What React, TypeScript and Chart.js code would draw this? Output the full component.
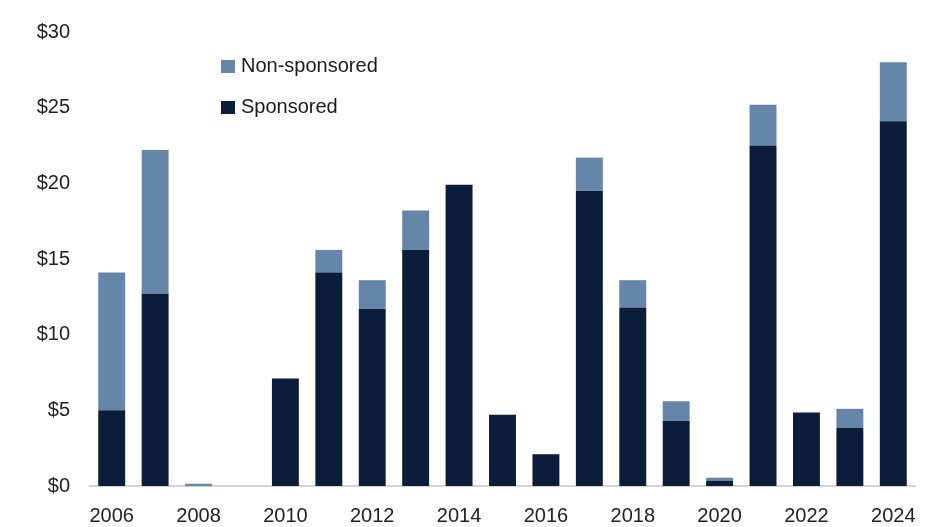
import React, { useEffect, useRef } from "react";
import { Chart, registerables } from "chart.js";

Chart.register(...registerables);

const years = ["2006","2007","2008","2009","2010","2011","2012","2013","2014","2015","2016","2017","2018","2019","2020","2021","2022","2023","2024"];
const sponsored = [5.0, 12.7, 0, 0, 7.1, 14.1, 11.7, 15.6, 19.9, 4.7, 2.1, 19.5, 11.8, 4.3, 0.35, 22.5, 4.85, 3.85, 24.1];
const nonSponsored = [9.1, 9.5, 0.15, 0, 0, 1.5, 1.9, 2.6, 0, 0, 0, 2.2, 1.8, 1.3, 0.2, 2.7, 0, 1.25, 3.9];
const yTicks = [0, 5, 10, 15, 20, 25, 30];

const SPONSORED_COLOR = "#0B1D3B";
const NON_COLOR = "#6585A9";
const FONT = "'Liberation Sans', Arial, sans-serif";

const legendPlugin = {
  id: "insideLegend",
  afterDraw(chart: any) {
    const ctx = chart.ctx;
    const ds = [...chart.data.datasets].reverse();
    ctx.save();
    ctx.font = `20px ${FONT}`;
    ctx.textBaseline = "middle";
    ds.forEach((d: any, i: number) => {
      const cy = 66 + i * 41;
      ctx.fillStyle = d.backgroundColor;
      ctx.fillRect(221, cy - 6, 14, 13);
      ctx.fillStyle = "#1a1a1a";
      ctx.fillText(d.label, 241, cy);
    });
    ctx.restore();
  },
};

export default function App() {
  const ref = useRef<HTMLCanvasElement | null>(null);
  useEffect(() => {
    if (!ref.current) return;
    const chart = new Chart(ref.current, {
      type: "bar",
      data: {
        labels: years,
        datasets: [
          { label: "Sponsored", data: sponsored, backgroundColor: SPONSORED_COLOR, borderWidth: 0 },
          { label: "Non-sponsored", data: nonSponsored, backgroundColor: NON_COLOR, borderWidth: 0 },
        ],
      },
      options: {
        animation: false,
        responsive: false,
        maintainAspectRatio: false,
        layout: { padding: { top: 30, right: 30, left: 0, bottom: 0 } },
        plugins: { legend: { display: false }, tooltip: { enabled: false }, title: { display: false } },
        datasets: { bar: { categoryPercentage: 1, barPercentage: 0.62 } },
        scales: {
          x: {
            stacked: true,
            grid: { display: false, drawTicks: false },
            border: { display: true, color: "#d4d4d4", width: 2 },
            ticks: {
              autoSkip: false,
              maxRotation: 0,
              padding: 18,
              color: "#222",
              font: { family: FONT, size: 20 },
              callback: (_v: any, i: number) => (i % 2 === 0 ? years[i] : ""),
            },
            afterFit: (s: any) => { s.height = 41; },
          },
          y: {
            stacked: true,
            min: 0,
            max: 30,
            afterBuildTicks: (s: any) => { s.ticks = yTicks.map((v) => ({ value: v })); },
            grid: { display: false, drawTicks: false },
            border: { display: false },
            ticks: {
              padding: 20,
              color: "#222",
              font: { family: FONT, size: 20 },
              callback: (v: any) => "$" + v,
            },
            afterFit: (s: any) => { s.width = 90; },
          },
        },
      },
      plugins: [legendPlugin],
    });
    return () => chart.destroy();
  }, []);
  return (
    <div style={{ position: "fixed", left: 0, top: 0, width: 945, height: 527, background: "#fff" }}>
      <canvas ref={ref} width={945} height={527} style={{ width: 945, height: 527 }} />
    </div>
  );
}
